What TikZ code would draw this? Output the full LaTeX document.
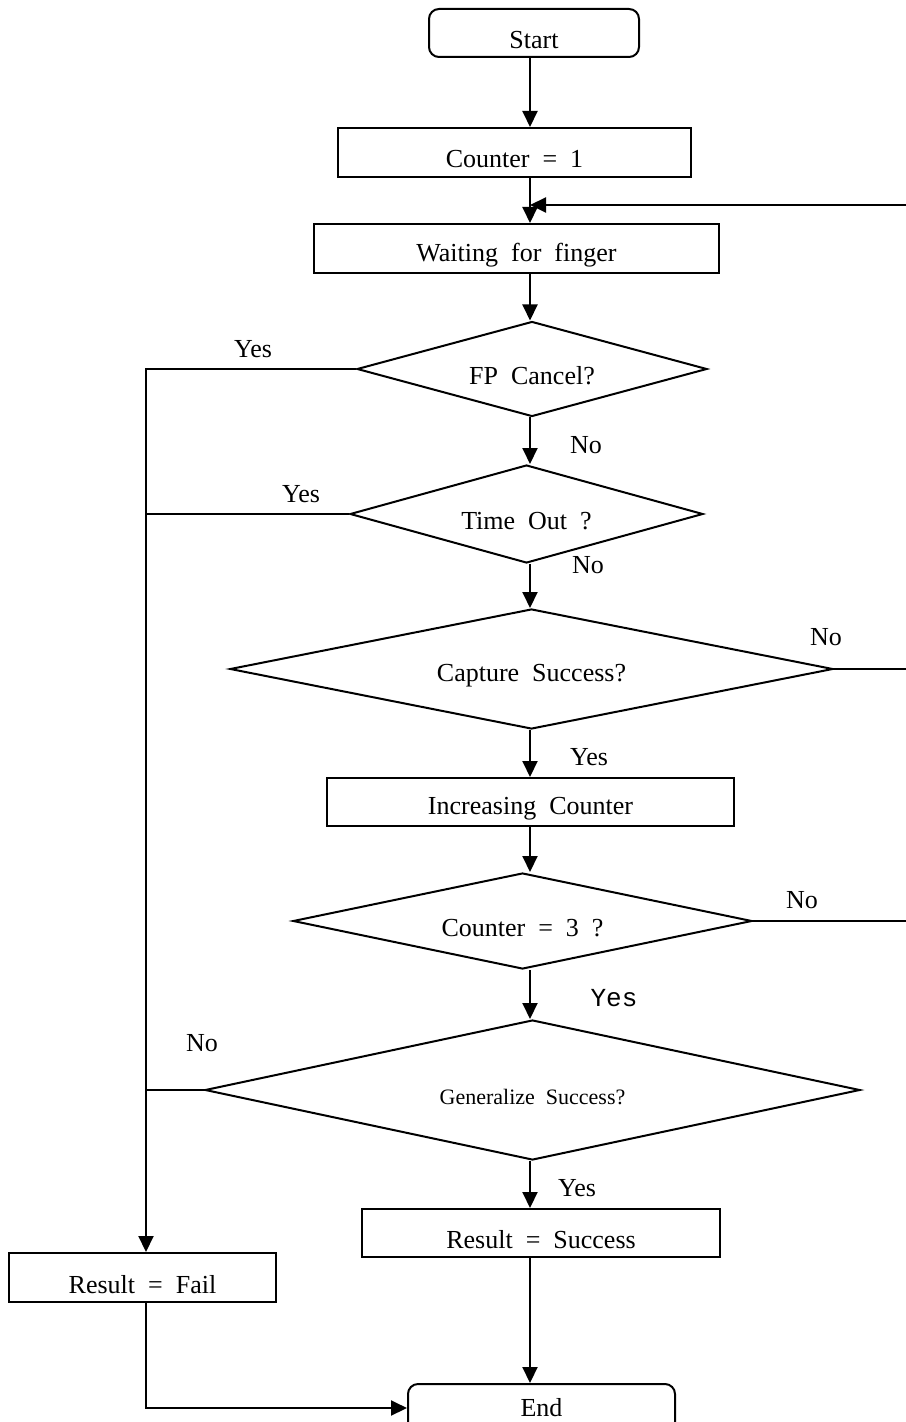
\documentclass[tikz,border=0pt]{standalone}
\usepackage{fontspec}
\setmainfont{Liberation Serif}
\newfontfamily\monofont{Liberation Mono}
\usetikzlibrary{arrows.meta,shapes.geometric,calc}
% text sits a little low in its box
\newcommand{\lowtxt}[1]{\raisebox{-3.5pt}[\height][\depth]{#1}}

\begin{document}
\begin{tikzpicture}[x=0.5pt,y=-0.5pt,
    every node/.style={font=\fontsize{13}{15}\selectfont},
    box/.style={draw, line width=1pt, rectangle, inner sep=0pt},
    term/.style={draw, line width=1pt, rounded corners=5pt, inner sep=0pt},
    decision/.style={draw, line width=1pt, diamond, aspect=4, inner sep=0pt},
    flow/.style={line width=1pt, -{Triangle[length=8pt,width=7.5pt]}},
    link/.style={line width=1pt}]
    \useasboundingbox (0,0) rectangle (905,1422);
    % columns of the flow lines
    \coordinate (spine) at (530,0);
    \coordinate (lft) at (146,0);
    \coordinate (rgt) at (908,0);
    \coordinate (loop) at (530,205);
    % steps
    \node[term, minimum width=105pt, minimum height=24pt] (start) at (534,33) {\lowtxt{Start}};
    \node[box, minimum width=176.5pt, minimum height=24.5pt] (cnt1) at (514.5,152.5) {\lowtxt{Counter\ \ =\ \ 1}};
    \node[box, minimum width=202.5pt, minimum height=24.5pt] (wait) at (516.5,248.5) {\lowtxt{Waiting\ \ for\ \ finger}};
    \node[decision, minimum width=175pt, minimum height=47.5pt] (fpc) at (532,369) {\lowtxt{FP\ \ Cancel?}};
    \node[decision, minimum width=176.5pt, minimum height=49pt] (tout) at (526.5,514) {\lowtxt{Time\ \ Out\ \ ?}};
    \node[decision, minimum width=301.5pt, minimum height=60pt] (cap) at (531.5,669) {\lowtxt{Capture\ \ Success?}};
    \node[box, minimum width=203.5pt, minimum height=24pt] (inc) at (530.5,802) {\lowtxt{Increasing\ \ Counter}};
    \node[decision, minimum width=229.5pt, minimum height=48pt] (cnt3) at (522.5,921) {\lowtxt{Counter\ \ =\ \ 3\ \ ?}};
    \node[decision, minimum width=327.5pt, minimum height=70pt,
        font=\fontsize{11}{13}\selectfont] (gen) at (532.5,1090) {\lowtxt{Generalize\ \ Success?}};
    \node[box, minimum width=179pt, minimum height=24pt] (res) at (541,1233) {\lowtxt{Result\ \ =\ \ Success}};
    \node[box, minimum width=133.5pt, minimum height=24.5pt] (fail) at (142.5,1277.5) {\lowtxt{Result\ \ =\ \ Fail}};
    \node[term, minimum width=133.5pt, minimum height=24pt] (endn) at (541.5,1408) {End};
    % main column
    \draw[flow] (start.south -| spine) -- (cnt1.north -| spine);
    \draw[flow] (cnt1.south -| spine) -- (wait.north -| spine);
    \draw[flow] (wait.south -| spine) -- (fpc.north -| spine);
    \draw[flow] (fpc.south -| spine) -- (tout.north -| spine);
    \draw[flow] (tout.south -| spine) -- (cap.north -| spine);
    \draw[flow] (cap.south -| spine) -- (inc.north -| spine);
    \draw[flow] (inc.south -| spine) -- (cnt3.north -| spine);
    \draw[flow] (cnt3.south -| spine) -- (gen.north -| spine);
    \draw[flow] (gen.south -| spine) -- (res.north -| spine);
    \draw[flow] (res.south -| spine) -- (endn.north -| spine);
    % back to waiting
    \draw[flow] (cnt3.east) -- (cnt3.east -| rgt) -- (loop -| rgt) -- (loop);
    \draw[link] (cap.east) -- (cap.east -| rgt);
    % fail branch
    \draw[flow] (fpc.west) -- (fpc.west -| lft) -- (fail.north -| lft);
    \draw[link] (tout.west) -- (tout.west -| lft);
    \draw[link] (gen.west) -- (gen.west -| lft);
    \draw[flow] (fail.south -| lft) |- (endn.west);
    % answers
    \node (yes1) at (253,349) {Yes};
    \node (no1) at (586,445) {No};
    \node (yes2) at (301,494) {Yes};
    \node (no2) at (588,565) {No};
    \node (no3) at (826,637) {No};
    \node (yes3) at (589,757) {Yes};
    \node (no4) at (802,900) {No};
    \node[font=\monofont\fontsize{13}{15}\selectfont] (yes4) at (614,998) {Yes};
    \node (no5) at (202,1043) {No};
    \node (yes5) at (577,1188) {Yes};
\end{tikzpicture}
\end{document}
